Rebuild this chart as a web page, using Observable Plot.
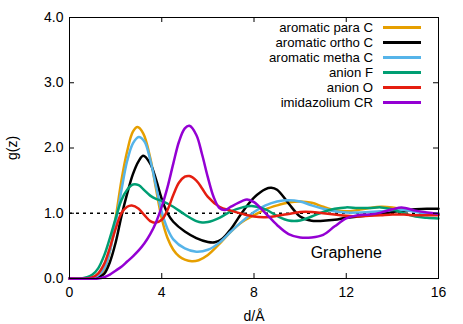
<!DOCTYPE html>
<html><head><meta charset="utf-8">
<script src="https://cdn.jsdelivr.net/npm/d3@7"></script>
<script src="https://cdn.jsdelivr.net/npm/@observablehq/plot@0.6"></script>
<style>
body{margin:0;background:#fff}
#wrap{position:relative;width:463px;height:324px;font-family:"Liberation Sans",Arial,sans-serif}
#legend{position:absolute;left:220px;top:20px;font-size:13.2px;color:#000}
#legend .row{display:flex;align-items:center;height:15px}
#legend .lab{width:153px;text-align:right;white-space:nowrap;line-height:15px}
#legend .sw{width:38px;height:3px;margin-left:10px}
</style>
</head><body>
<div id="wrap"><div id="chart"></div><div id="legend"></div></div>
<script>
const seriesNames = ["aromatic para C","aromatic ortho C","aromatic metha C","anion F","anion O","imidazolium CR"];
const seriesColors = ["#e69f00","#000000","#56b4e9","#009e73","#e51e10","#9400d3"];
const xTicks = [0,4,8,12,16];
const yTicks = [0,1,2,3,4];

const paraC = [[0,0],[0.75,0],[1,0.01],[1.25,0.04],[1.5,0.13],[1.75,0.42],[2,0.92],[2.25,1.5],[2.5,1.95],[2.75,2.25],[2.95,2.32],[3.2,2.22],[3.5,1.85],[3.75,1.38],[4,0.92],[4.25,0.62],[4.5,0.44],[4.75,0.34],[5,0.29],[5.3,0.265],[5.6,0.28],[6,0.36],[6.5,0.53],[7,0.72],[7.5,0.87],[8,0.97],[8.5,1.06],[9,1.12],[9.5,1.165],[10,1.18],[10.5,1.16],[11,1.1],[11.5,1.05],[12,1.03],[12.5,1.05],[13,1.08],[13.5,1.1],[14,1.09],[14.5,1.06],[15,1.03],[15.5,1.0],[16,0.98]];
const orthoC = [[0,0],[1,0],[1.25,0.02],[1.5,0.07],[1.75,0.25],[2,0.55],[2.25,0.95],[2.5,1.3],[2.75,1.6],[3,1.8],[3.2,1.88],[3.5,1.76],[3.75,1.52],[4,1.22],[4.25,1.0],[4.5,0.87],[5,0.72],[5.5,0.62],[6,0.56],[6.3,0.555],[6.6,0.6],[7,0.76],[7.5,1.02],[8,1.24],[8.5,1.37],[8.75,1.39],[9,1.36],[9.5,1.15],[10,0.95],[10.5,0.885],[11,0.885],[11.5,0.9],[12,0.93],[12.5,0.95],[13,0.97],[13.5,0.99],[14,1.02],[14.5,1.04],[15,1.06],[15.5,1.07],[16,1.07]];
const methaC = [[0,0],[0.75,0],[1,0.01],[1.25,0.05],[1.5,0.15],[1.75,0.42],[2,0.85],[2.25,1.35],[2.5,1.8],[2.75,2.07],[3,2.17],[3.25,2.1],[3.5,1.82],[3.75,1.42],[4,1.02],[4.25,0.76],[4.5,0.6],[5,0.46],[5.5,0.41],[6,0.44],[6.5,0.55],[7,0.72],[7.5,0.88],[8,1.02],[8.5,1.12],[9,1.18],[9.5,1.2],[10,1.18],[10.5,1.12],[11,1.07],[11.5,1.03],[12,1.01],[12.5,1.01],[13,1.02],[13.5,1.03],[14,1.05],[14.5,1.05],[15,1.02],[15.5,1.0],[16,1.0]];
const anionF = [[0,0],[0.5,0],[0.75,0.02],[1,0.06],[1.25,0.16],[1.5,0.35],[1.75,0.62],[2,0.92],[2.25,1.2],[2.5,1.36],[2.75,1.44],[3,1.43],[3.25,1.35],[3.5,1.27],[3.75,1.22],[4,1.19],[4.5,1.1],[5,0.98],[5.5,0.88],[5.75,0.86],[6,0.865],[6.5,0.93],[7,1.03],[7.5,1.09],[7.9,1.11],[8.5,1.06],[9,0.96],[9.5,0.89],[10,0.89],[10.5,0.95],[11,1.02],[11.5,1.07],[12,1.09],[12.5,1.08],[13,1.08],[13.5,1.09],[14,1.06],[14.5,1.0],[15,0.95],[15.5,0.93],[16,0.92]];
const anionO = [[0,0],[0.75,0],[1,0.02],[1.25,0.08],[1.5,0.22],[1.75,0.47],[2,0.76],[2.25,1.0],[2.5,1.1],[2.7,1.12],[3,1.07],[3.25,0.97],[3.5,0.88],[3.7,0.855],[4,0.9],[4.25,1.05],[4.5,1.28],[4.75,1.47],[5,1.56],[5.2,1.57],[5.5,1.5],[5.75,1.38],[6,1.25],[6.5,1.1],[7,1.04],[7.5,0.99],[8,0.95],[8.5,0.94],[9,0.96],[9.5,0.99],[10,1.02],[10.5,1.02],[11,1.0],[11.5,0.98],[12,0.96],[12.5,0.95],[13,0.96],[13.5,0.97],[14,0.98],[14.5,0.98],[15,0.97],[15.5,0.97],[16,0.97]];
const imidCR = [[0,0],[1.25,0],[1.5,0.02],[1.75,0.06],[2,0.12],[2.25,0.18],[2.5,0.26],[2.75,0.34],[3,0.43],[3.25,0.54],[3.5,0.68],[3.75,0.86],[4,1.1],[4.25,1.4],[4.5,1.76],[4.75,2.1],[5,2.3],[5.2,2.34],[5.5,2.2],[5.75,1.9],[6,1.55],[6.25,1.25],[6.5,1.08],[6.75,1.05],[7,1.1],[7.5,1.19],[7.7,1.21],[8,1.17],[8.5,1.0],[9,0.82],[9.5,0.68],[10,0.63],[10.5,0.63],[11,0.67],[11.5,0.8],[12,0.92],[12.5,0.97],[13,0.98],[13.5,1.01],[14,1.06],[14.4,1.09],[15,1.04],[15.5,1.01],[16,0.99]];
const annotations = [{x: 12, y: 0.4, text: "Graphene"}];
const refLine = [1];

const seriesPoints = [paraC, orthoC, methaC, anionF, anionO, imidCR];
const rows = seriesPoints.flatMap((pts, i) => pts.map(([x, y]) => ({series: seriesNames[i], x, y})));

const W = 463, H = 324, ML = 69, MR = 25, MT = 17, MB = 46, TICK = 5;
const frameW = W - ML - MR, frameH = H - MT - MB;

const chart = Plot.plot({
  width: W, height: H,
  marginLeft: ML, marginRight: MR, marginTop: MT, marginBottom: MB,
  style: {fontFamily: '"Liberation Sans", Arial, sans-serif', fontSize: "14px", color: "#000", background: "#fff"},
  x: {domain: [0, 16]},
  y: {domain: [0, 4]},
  color: {domain: seriesNames, range: seriesColors},
  marks: [
    Plot.ruleY(refLine, {stroke: "#000", strokeWidth: 1.5, strokeDasharray: "3,4"}),
    Plot.line(rows, {x: "x", y: "y", z: "series", stroke: "series", strokeWidth: 2.5, curve: "catmull-rom"}),
    Plot.text(annotations, {x: "x", y: "y", text: "text", fontSize: 16}),
    Plot.tickX(xTicks, {x: d => d, insetTop: frameH - TICK, stroke: "#000"}),
    Plot.tickX(xTicks, {x: d => d, insetBottom: frameH - TICK, stroke: "#000"}),
    Plot.tickY(yTicks, {y: d => d, insetRight: frameW - TICK, stroke: "#000"}),
    Plot.tickY(yTicks, {y: d => d, insetLeft: frameW - TICK, stroke: "#000"}),
    Plot.axisX({ticks: xTicks, tickSize: 0, tickPadding: 9, tickFormat: d => String(d), label: "d/Å", labelAnchor: "center", labelArrow: "none", labelOffset: 42}),
    Plot.axisY({ticks: yTicks, tickSize: 0, tickPadding: 6, tickFormat: d => d.toFixed(1), label: "g(z)", labelAnchor: "center", labelArrow: "none", labelOffset: 62}),
    Plot.frame({stroke: "#000", strokeWidth: 1})
  ]
});
document.getElementById("chart").appendChild(chart);

const legend = document.getElementById("legend");
seriesNames.forEach((n, i) => {
  const row = document.createElement("div");
  row.className = "row";
  const lab = document.createElement("span");
  lab.className = "lab"; lab.textContent = n;
  const sw = document.createElement("span");
  sw.className = "sw"; sw.style.background = seriesColors[i];
  row.appendChild(lab); row.appendChild(sw);
  legend.appendChild(row);
});
</script>
</body></html>
